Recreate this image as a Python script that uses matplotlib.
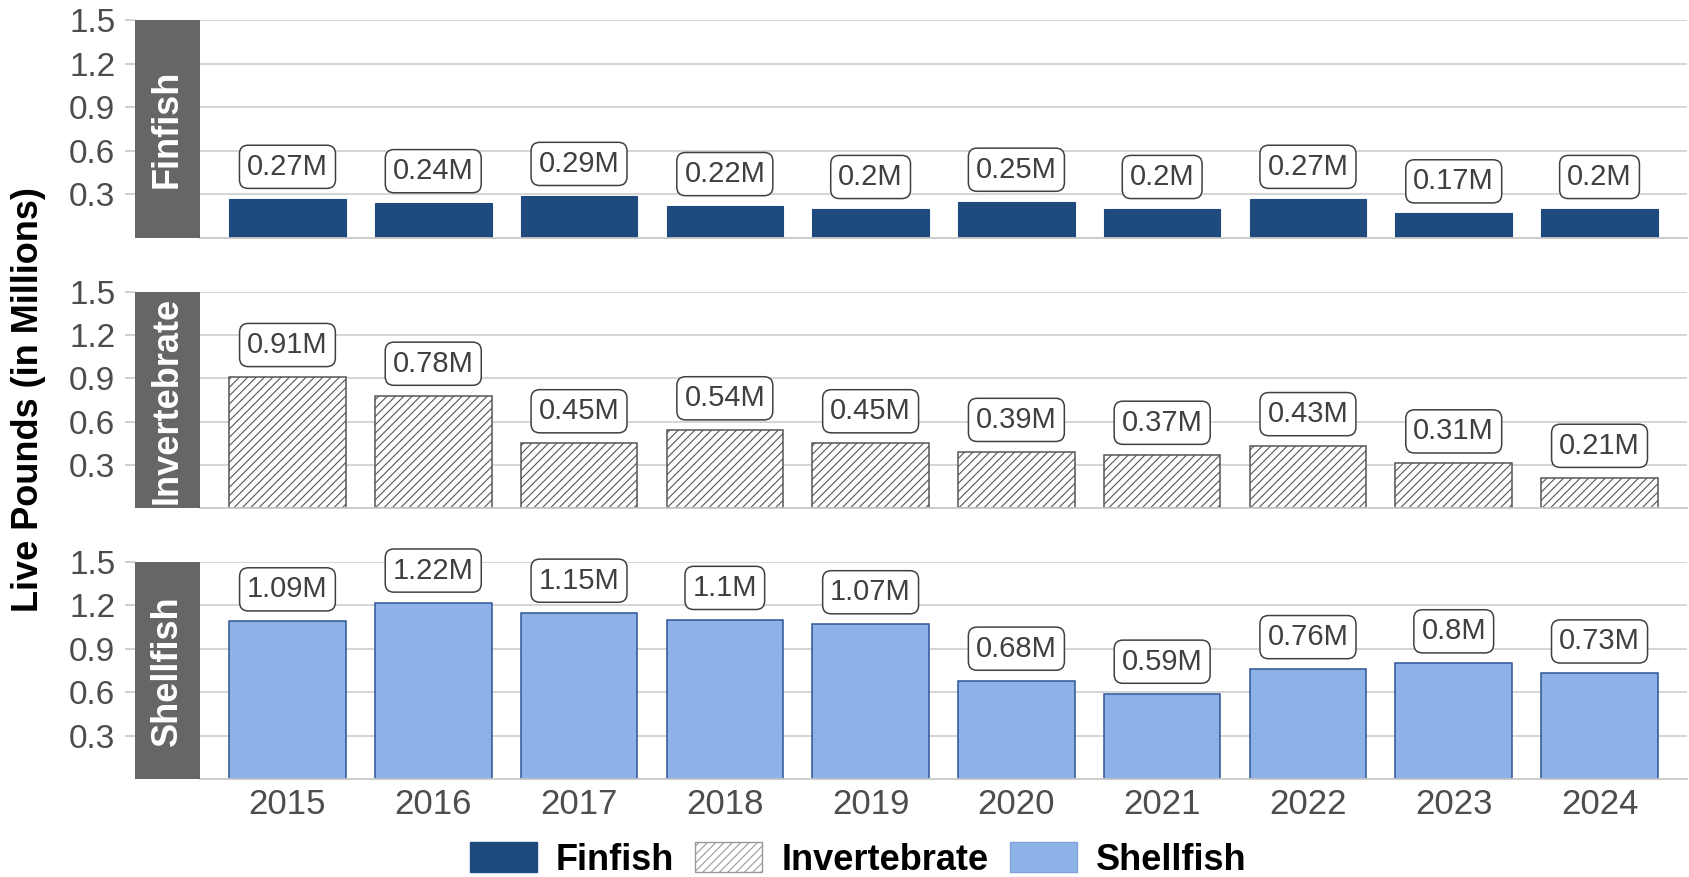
import matplotlib
matplotlib.use("Agg")
import matplotlib.pyplot as plt
from matplotlib.patches import Patch

# data
years = ["2015", "2016", "2017", "2018", "2019", "2020", "2021", "2022", "2023", "2024"]
groups = ["Finfish", "Invertebrate", "Shellfish"]
finfish = [0.27, 0.24, 0.29, 0.22, 0.2, 0.25, 0.2, 0.27, 0.17, 0.2]
invertebrate = [0.91, 0.78, 0.45, 0.54, 0.45, 0.39, 0.37, 0.43, 0.31, 0.21]
shellfish = [1.09, 1.22, 1.15, 1.1, 1.07, 0.68, 0.59, 0.76, 0.8, 0.73]
yticks = [0.3, 0.6, 0.9, 1.2, 1.5]

plt.rcParams["font.family"] = ["Liberation Sans", "DejaVu Sans"]
plt.rcParams["hatch.color"] = "#555555"
plt.rcParams["hatch.linewidth"] = 0.8

styles = {
    "Finfish": dict(color="#1f4a7d", edgecolor="#1f4a7d", linewidth=0.8),
    "Invertebrate": dict(color="white", edgecolor="#555555", hatch="////", linewidth=1.1),
    "Shellfish": dict(color="#8eb2e7", edgecolor="#2f5597", linewidth=1.1),
}
series = {"Finfish": finfish, "Invertebrate": invertebrate, "Shellfish": shellfish}

W, H = 1690, 877
fig = plt.figure(figsize=(W / 100, H / 100), dpi=100)

tops = [20, 292, 562]
bots = [238, 508, 779]
x0, x1, xs = 200, 1687, 135
grid_c = "#d2d2d2"
tick_c = "#4d4d4d"

xpos = list(range(len(years)))
for i, g in enumerate(groups):
    t, b = tops[i], bots[i]
    ax = fig.add_axes([x0 / W, 1 - b / H, (x1 - x0) / W, (b - t) / H])
    ax.set_xlim(-0.6, len(years) - 0.4)
    ax.set_ylim(0, 1.5)
    ax.set_yticks(yticks)
    ax.tick_params(axis="y", left=False, labelleft=False)
    ax.grid(axis="y", color=grid_c, linewidth=1.3)
    ax.set_axisbelow(True)
    for s in ["top", "right", "left"]:
        ax.spines[s].set_visible(False)
    ax.spines["bottom"].set_color("#c8c8c8")
    ax.spines["bottom"].set_linewidth(1.3)
    vals = series[g]
    ax.bar(xpos, vals, width=0.8, **styles[g])
    for xp, v in zip(xpos, vals):
        ax.annotate(f"{v:g}M", (xp, v), xytext=(0, 23), textcoords="offset points",
                    ha="center", va="center", fontsize=21, color="#404040",
                    bbox=dict(boxstyle="round,pad=0.26,rounding_size=0.3",
                              fc="white", ec="#404040", lw=1.1))
    ax.set_xticks(xpos)
    if i == 2:
        ax.set_xticklabels(years, fontsize=25, color=tick_c)
        ax.tick_params(axis="x", length=0, pad=6.5)
    else:
        ax.tick_params(axis="x", length=0, labelbottom=False)

    # strip with panel name, carries the y tick labels
    sax = fig.add_axes([xs / W, 1 - b / H, (x0 - xs) / W, (b - t) / H])
    sax.set_facecolor("#666666")
    sax.set_ylim(0, 1.5)
    sax.set_xticks([])
    sax.set_yticks(yticks)
    sax.set_yticklabels([f"{v:g}" for v in yticks], fontsize=24, color=tick_c)
    sax.tick_params(axis="y", length=7.2, width=1.2, color="#c8c8c8", pad=7)
    for s in sax.spines.values():
        s.set_visible(False)
    sax.text(0.5, 0.5, g, transform=sax.transAxes, rotation=90, ha="center",
             va="center", color="white", fontsize=26, fontweight="bold")

fig.text(29 / W, 1 - 400 / H, "Live Pounds (in Millions)", rotation=90,
         ha="center", va="center", fontsize=26, fontweight="bold")

handles = [Patch(facecolor="#1f4a7d", edgecolor="#1f4a7d", label="Finfish"),
           Patch(facecolor="white", edgecolor="#999999", hatch="////", label="Invertebrate"),
           Patch(facecolor="#8eb2e7", edgecolor="#7fa3da", label="Shellfish")]
fig.legend(handles=handles, loc="center", bbox_to_anchor=(858 / W, 1 - 860 / H), ncol=3,
           frameon=False, prop=dict(weight="bold", size=26),
           handlelength=1.86, handleheight=0.89, handletextpad=0.53, columnspacing=0.58,
           borderaxespad=0, borderpad=0)

fig.savefig("out.png", dpi=100)
